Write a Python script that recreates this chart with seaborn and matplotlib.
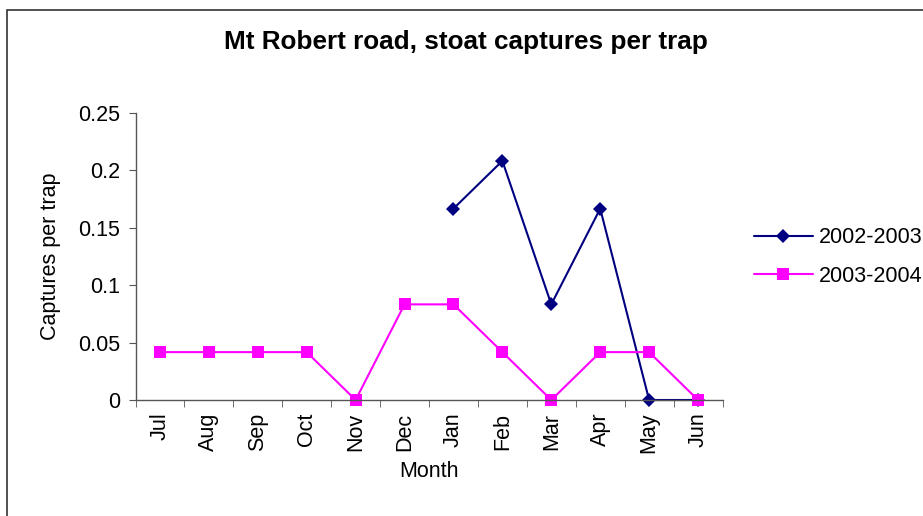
import numpy as np
import pandas as pd
import matplotlib
matplotlib.use("Agg")
import matplotlib.pyplot as plt
import seaborn as sns
from matplotlib.patches import Rectangle

months = ["Jul", "Aug", "Sep", "Oct", "Nov", "Dec", "Jan", "Feb", "Mar", "Apr", "May", "Jun"]
s2002 = [np.nan, np.nan, np.nan, np.nan, np.nan, np.nan, 0.1667, 0.2083, 0.0833, 0.1667, 0.0, 0.0]
s2003 = [0.0417, 0.0417, 0.0417, 0.0417, 0.0, 0.0833, 0.0833, 0.0417, 0.0, 0.0417, 0.0417, 0.0]
series_names = ["2002-2003", "2003-2004"]

sns.set_style("white")
plt.rcParams["font.family"] = ["Liberation Sans", "DejaVu Sans"]
plt.rcParams["text.color"] = "black"
plt.rcParams["axes.labelcolor"] = "black"
plt.rcParams["xtick.color"] = "black"
plt.rcParams["ytick.color"] = "black"

fig = plt.figure(figsize=(9.23, 5.16), dpi=100)
fig.patches.append(Rectangle((7 / 923, -0.1), 1.2, 1.1 - 10 / 516, transform=fig.transFigure,
                             fill=False, edgecolor="#333333", linewidth=1.2, zorder=-1))
ax = fig.add_axes([135.5 / 923, 116 / 516, 587 / 923, 287 / 516])

pos = np.arange(len(months))
df = pd.DataFrame({"pos": np.concatenate([pos, pos]),
                   "val": s2002 + s2003,
                   "series": [series_names[0]] * len(months) + [series_names[1]] * len(months)})
df = df.dropna()

sns.lineplot(data=df, x="pos", y="val", hue="series", style="series",
             palette={"2002-2003": "#000080", "2003-2004": "#FF00FF"},
             markers={"2002-2003": "D", "2003-2004": "s"}, dashes=False,
             markersize=7, markeredgewidth=0, linewidth=1.5, ax=ax, clip_on=False)
for ln in ax.lines:
    if ln.get_marker() == "s":
        ln.set_markersize(8.5)

ax.set_xlim(-0.5, 11.5)
ax.set_ylim(0, 0.25)
ax.set_yticks([0, 0.05, 0.1, 0.15, 0.2, 0.25])
ax.set_yticklabels(["0", "0.05", "0.1", "0.15", "0.2", "0.25"], fontsize=15.5)
ax.set_xticks(pos)
ax.set_xticklabels(months, rotation=90, fontsize=15.5)
ax.set_xticks(np.arange(-0.5, 12, 1), minor=True)
ax.tick_params(axis="x", which="major", length=0, pad=9)
ax.tick_params(axis="x", which="minor", length=5, color="#555555", direction="out", bottom=True)
ax.tick_params(axis="y", length=5, color="#555555", direction="out", left=True, pad=6)
for s in ["top", "right"]:
    ax.spines[s].set_visible(False)
for s in ["left", "bottom"]:
    ax.spines[s].set_color("#555555")
    ax.spines[s].set_linewidth(1.0)

ax.set_xlabel("Month", fontsize=15.5, labelpad=6)
ax.set_ylabel("Captures per trap", fontsize=15.5, labelpad=12)
fig.text(466 / 923, 1 - 42 / 516, "Mt Robert road, stoat captures per trap",
         ha="center", va="center", fontsize=18.8, fontweight="bold")

handles, labels = ax.get_legend_handles_labels()
ax.legend(handles, labels, loc="center left", bbox_to_anchor=(735 / 923, 1 - 257 / 516),
          bbox_transform=fig.transFigure, frameon=False, fontsize=15.5, handlelength=2.7,
          labelspacing=0.8, handletextpad=0.3)

fig.savefig("out.png", dpi=100)
